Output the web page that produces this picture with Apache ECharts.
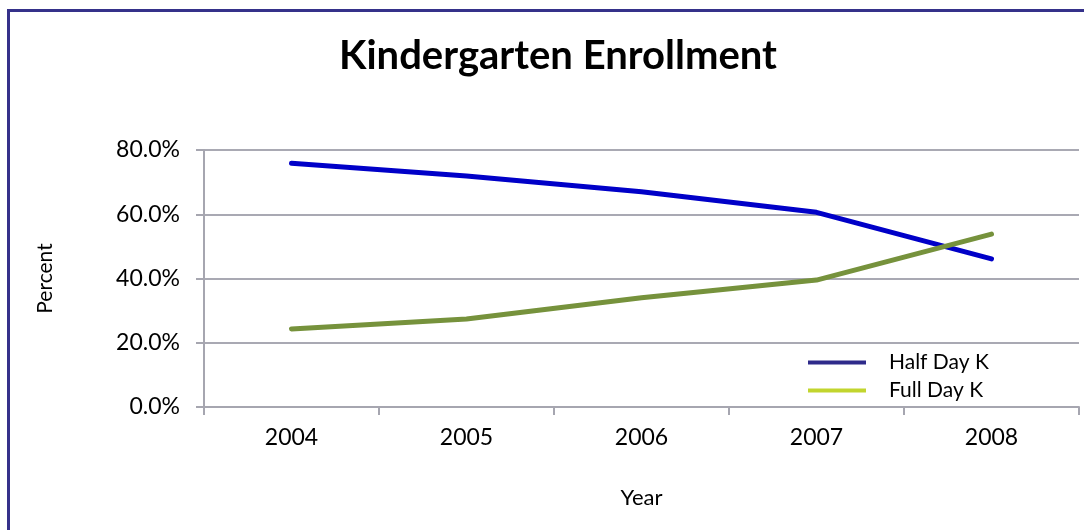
<!DOCTYPE html>
<html>
<head>
<meta charset="utf-8">
<script src="https://cdn.jsdelivr.net/npm/echarts@6/dist/echarts.min.js"></script>
<style>
html,body{margin:0;padding:0;background:#fff;}
#c{width:1084px;height:530px;}
</style>
</head>
<body>
<div id="c"></div>
<script>
const title = 'Kindergarten Enrollment';
const years = ['2004', '2005', '2006', '2007', '2008'];
const halfDay = [75.9, 71.9, 67.0, 60.6, 46.1];
const fullDay = [24.3, 27.4, 34.0, 39.5, 53.8];
const seriesNames = ['Half Day K', 'Full Day K'];

const font = 'Lato, "Open Sans", sans-serif';
const chart = echarts.init(document.getElementById('c'), null, {renderer: 'canvas'});
chart.setOption({
  backgroundColor: '#fff',
  animation: false,
  title: {
    text: title, left: 553, top: 31, textAlign: 'center',
    textStyle: {fontFamily: font, fontSize: 40, fontWeight: 'bold', color: '#000'}
  },
  graphic: [{
    type: 'rect', left: 6, top: 8, silent: true,
    shape: {x: 0, y: 0, width: 1200, height: 700},
    style: {fill: 'none', stroke: '#35318a', lineWidth: 3}
  }],
  legend: {
    orient: 'vertical', left: 803, top: 347, itemWidth: 58, itemHeight: 4,
    itemGap: 7, icon: 'rect',
    textStyle: {fontFamily: font, fontSize: 21, color: '#000', padding: [0, 0, 0, 18]},
    data: [
      {name: seriesNames[0], itemStyle: {color: '#2e2a8a'}},
      {name: seriesNames[1], itemStyle: {color: '#c2d52e'}}
    ]
  },
  grid: {left: 204, right: 5, top: 150, bottom: 123},
  xAxis: {
    type: 'category', data: years, boundaryGap: true,
    name: 'Year', nameLocation: 'middle', nameGap: 80,
    nameTextStyle: {fontFamily: font, fontSize: 22, color: '#000'},
    axisLine: {lineStyle: {color: '#a6a6b0', width: 2}},
    axisTick: {show: true, length: 8, lineStyle: {color: '#a6a6b0', width: 2}},
    axisLabel: {fontFamily: font, fontSize: 23, color: '#000', margin: 19}
  },
  yAxis: {
    type: 'value', min: 0, max: 80, interval: 20,
    name: 'Percent', nameLocation: 'middle', nameGap: 148, nameRotate: 90,
    nameTextStyle: {fontFamily: font, fontSize: 21, color: '#000'},
    axisLine: {show: true, lineStyle: {color: '#a6a6b0', width: 2}},
    axisTick: {show: true, length: 8, lineStyle: {color: '#a6a6b0', width: 2}},
    axisLabel: {fontFamily: font, fontSize: 23, color: '#000', margin: 24,
      formatter: v => v.toFixed(1) + '%'},
    splitLine: {lineStyle: {color: '#a9a9b3', width: 2}}
  },
  series: [
    {name: seriesNames[0], type: 'line', data: halfDay, symbol: 'none',
     lineStyle: {color: '#0000c8', width: 5, cap: 'round'}, itemStyle: {color: '#0000c8'}},
    {name: seriesNames[1], type: 'line', data: fullDay, symbol: 'none',
     lineStyle: {color: '#76923c', width: 5, cap: 'round'}, itemStyle: {color: '#76923c'}}
  ]
});
</script>
</body>
</html>
